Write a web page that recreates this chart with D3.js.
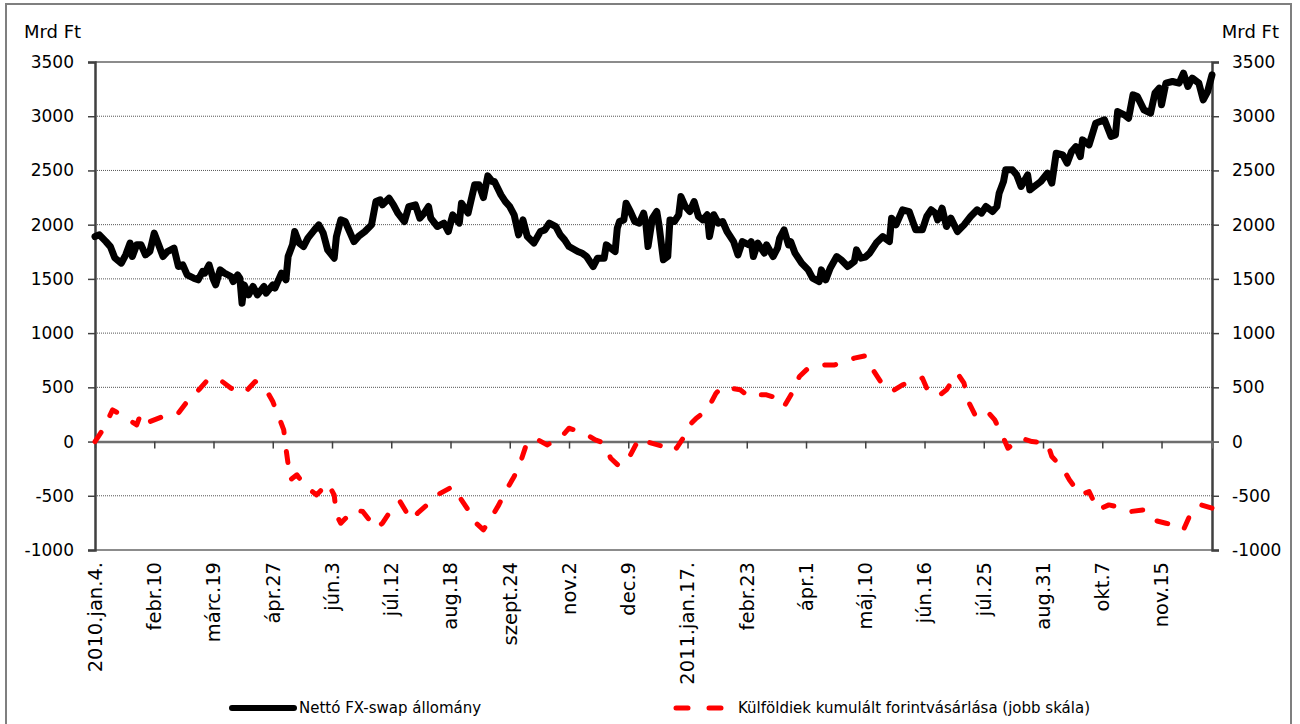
<!DOCTYPE html>
<html lang="hu">
<head>
<meta charset="utf-8">
<title>Nettó FX-swap állomány és külföldiek forintvásárlása</title>
<style>
  body { margin: 0; background: #fff; }
  svg text { font-family: "DejaVu Sans", Verdana, sans-serif; fill: #000; }
  .grid line { stroke: #555; stroke-width: 1; stroke-dasharray: 1,1; }
</style>
</head>
<body>
<svg width="1300" height="724"></svg>
<script src="https://d3js.org/d3.v7.min.js"></script>
<script>

// munkanap-index (0 = 2010.jan.4.), minden 27. naphoz tartozik egy felirat
var tickLabels = ["2010.jan.4.", "febr.10", "márc.19", "ápr.27", "jún.3", "júl.12", "aug.18",
  "szept.24", "nov.2", "dec.9", "2011.jan.17.", "febr.23", "ápr.1", "máj.10", "jún.16",
  "júl.25", "aug.31", "okt.7", "nov.15"];
var tickStep = 27;
var lastDay = 509;

var yTicks = [3500, 3000, 2500, 2000, 1500, 1000, 500, 0, -500, -1000];

// Nettó FX-swap állomány (Mrd Ft, bal skála)
var swapDay = [0, 2, 5, 7, 9, 12, 14, 16, 17, 19, 21, 23, 25, 27, 29, 31, 33, 36, 38, 40,
  42, 45, 47, 49, 50, 52, 54, 55, 57, 59, 62, 63, 65, 66, 67, 68, 70, 72, 74, 77,
  78, 81, 82, 84, 85, 87, 88, 90, 91, 93, 95, 97, 100, 102, 104, 106, 109, 110, 112, 114,
  116, 118, 120, 123, 126, 128, 130, 131, 134, 136, 138, 141, 143, 146, 148, 150, 152, 153, 156, 159,
  161, 163, 166, 167, 170, 173, 175, 177, 179, 181, 182, 185, 187, 189, 191, 193, 195, 197, 200, 203,
  205, 207, 210, 212, 214, 216, 220, 222, 224, 227, 229, 232, 233, 235, 237, 238, 239, 241, 242, 244,
  246, 248, 250, 251, 252, 254, 256, 257, 259, 261, 262, 264, 266, 267, 269, 271, 273, 275, 277, 279,
  280, 282, 284, 286, 288, 291, 293, 295, 298, 299, 300, 302, 305, 306, 309, 311, 312, 314, 316, 317,
  319, 322, 325, 327, 330, 331, 333, 335, 338, 340, 343, 344, 346, 347, 349, 351, 353, 356, 359, 362,
  363, 365, 368, 371, 374, 377, 379, 381, 383, 384, 386, 388, 390, 393, 396, 399, 402, 404, 406, 409,
  411, 412, 414, 415, 418, 420, 422, 425, 426, 428, 431, 434, 436, 438, 441, 443, 445, 447, 449, 450,
  453, 456, 458, 460, 463, 465, 466, 469, 471, 473, 475, 478, 481, 483, 485, 486, 488, 491, 494, 496,
  498, 500, 503, 505, 507, 509];
var swapVal = [1890, 1906, 1844, 1798, 1694, 1645, 1722, 1830, 1706, 1814, 1814, 1722, 1752, 1922, 1814, 1706, 1752, 1783, 1614, 1629,
  1537, 1507, 1491, 1568, 1553, 1629, 1491, 1445, 1583, 1553, 1522, 1475, 1537, 1507, 1276, 1445, 1353, 1430, 1353, 1430,
  1368, 1445, 1415, 1507, 1553, 1491, 1706, 1814, 1937, 1830, 1798, 1876, 1952, 1998, 1922, 1768, 1691, 1890, 2044, 2029,
  1937, 1844, 1890, 1937, 1998, 2213, 2229, 2183, 2244, 2183, 2106, 2029, 2167, 2183, 2060, 2106, 2167, 2060, 1983, 2014,
  1937, 2091, 2014, 2198, 2106, 2367, 2367, 2250, 2450, 2398, 2398, 2275, 2213, 2167, 2091, 1906, 2044, 1890, 1830, 1937,
  1952, 2014, 1983, 1906, 1860, 1798, 1752, 1737, 1706, 1614, 1691, 1691, 1814, 1783, 1752, 1968, 2029, 2044, 2198, 2121,
  2029, 2014, 2106, 2014, 1798, 2060, 2121, 1998, 1676, 1706, 2044, 2029, 2091, 2259, 2167, 2121, 2213, 2075, 2044, 2091,
  1890, 2091, 2014, 2029, 1937, 1844, 1722, 1844, 1814, 1844, 1706, 1830, 1737, 1814, 1706, 1783, 1876, 1952, 1814, 1844,
  1737, 1645, 1583, 1507, 1475, 1583, 1491, 1599, 1706, 1676, 1614, 1629, 1660, 1768, 1691, 1700, 1737, 1830, 1890, 1844,
  2060, 1998, 2137, 2121, 1952, 1952, 2075, 2137, 2106, 2044, 2152, 1983, 2060, 1937, 1998, 2075, 2137, 2106, 2167, 2121,
  2167, 2290, 2398, 2506, 2506, 2459, 2352, 2459, 2321, 2352, 2398, 2475, 2383, 2659, 2644, 2567, 2674, 2720, 2628, 2782,
  2736, 2936, 2951, 2967, 2813, 2828, 3043, 3013, 2982, 3197, 3181, 3059, 3028, 3213, 3259, 3105, 3305, 3320, 3305, 3397,
  3274, 3351, 3305, 3151, 3228, 3382];

// Külföldiek kumulált forintvásárlása (Mrd Ft, jobb skála)
var forintDay = [0, 4, 8, 12, 19, 21, 25, 31, 38, 42, 48, 52, 58, 62, 68, 73, 78, 81, 84, 86,
  87, 89, 92, 96, 101, 106, 109, 110, 112, 118, 122, 128, 131, 136, 139, 144, 147, 153, 156, 163,
  166, 170, 172, 177, 180, 184, 187, 191, 194, 197, 199, 202, 206, 212, 216, 223, 228, 232, 235, 239,
  244, 248, 251, 259, 263, 265, 268, 271, 274, 279, 283, 286, 294, 298, 300, 306, 311, 314, 318, 321,
  325, 333, 337, 346, 351, 355, 358, 363, 368, 377, 379, 384, 388, 393, 396, 398, 401, 406, 410, 414,
  416, 422, 427, 434, 436, 441, 444, 449, 453, 457, 462, 469, 472, 478, 482, 488, 491, 496, 499, 504,
  509];
var forintVal = [0, 123, 292, 246, 154, 262, 184, 231, 262, 369, 492, 585, 553, 492, 446, 553, 477, 369, 216, 108,
  -61, -353, -307, -415, -492, -384, -492, -676, -753, -630, -645, -799, -753, -599, -553, -722, -660, -553, -492, -415,
  -507, -630, -722, -814, -722, -584, -461, -323, -184, 0, 15, 15, -31, 31, 123, 77, 15, -15, -154, -230,
  -123, 31, 0, -46, -15, -61, 31, 154, 216, 292, 446, 507, 477, 415, 431, 431, 400, 323, 461, 600,
  677, 707, 707, 769, 790, 646, 553, 461, 523, 585, 492, 415, 477, 631, 538, 369, 246, 292, 200, 31,
  -61, 31, 0, -15, -138, -245, -353, -492, -461, -630, -584, -614, -645, -630, -722, -753, -768, -814, -676, -584,
  -614];

var svg = d3.select("svg"),
    margin = {top: 62, right: 88, bottom: 174, left: 95},
    width = 1300 - margin.left - margin.right,
    height = 724 - margin.top - margin.bottom;

// külső keret
svg.append("rect")
    .attr("x", 6).attr("y", 4)
    .attr("width", 1285).attr("height", 740)
    .attr("fill", "none")
    .attr("stroke", "#7f7f7f")
    .attr("stroke-width", 2);

var g = svg.append("g").attr("transform", "translate(" + margin.left + "," + margin.top + ")");

var x = d3.scaleLinear().domain([0, lastDay]).range([0, width]);
var y = d3.scaleLinear().domain([-1000, 3500]).range([height, 0]);

// rácsvonalak
g.append("g").attr("class", "grid")
  .selectAll("line")
  .data(yTicks.filter(function(d) { return d != 0 && d != 3500 && d != -1000; }))
  .enter().append("line")
    .attr("x1", 0).attr("x2", width)
    .attr("y1", function(d) { return y(d); })
    .attr("y2", function(d) { return y(d); });

// felső és alsó keretvonal
g.append("line").attr("x1", 0).attr("x2", width).attr("y1", 0).attr("y2", 0)
    .attr("stroke", "#8c8c8c").attr("stroke-width", 2);
g.append("line").attr("x1", 0).attr("x2", width).attr("y1", height).attr("y2", height)
    .attr("stroke", "#8c8c8c").attr("stroke-width", 2);

// bal és jobb tengely
var plain = function(d) { return String(d); };
var yLeft = d3.axisLeft(y).tickValues(yTicks).tickSize(7).tickPadding(14).tickFormat(plain);
var yRight = d3.axisRight(y).tickValues(yTicks).tickSize(7).tickPadding(13).tickFormat(plain);

g.append("g").call(yLeft)
    .call(function(a) {
      a.select(".domain").attr("stroke", "#404040").attr("stroke-width", 2.5);
      a.selectAll(".tick line").attr("stroke", "#404040").attr("stroke-width", 1.5);
      a.selectAll("text").style("font-size", "17px");
    });

g.append("g").attr("transform", "translate(" + width + ",0)").call(yRight)
    .call(function(a) {
      a.select(".domain").attr("stroke", "#404040").attr("stroke-width", 2.5);
      a.selectAll(".tick line").attr("stroke", "#404040").attr("stroke-width", 1.5);
      a.selectAll("text").style("font-size", "17px");
    });

// x tengely a nullánál (csak osztásjelek)
var xTickVals = tickLabels.map(function(d, i) { return i * tickStep; });
var xAxis = d3.axisBottom(x).tickValues(xTickVals).tickSize(7).tickFormat("");

g.append("g").attr("transform", "translate(0," + y(0) + ")").call(xAxis)
    .call(function(a) {
      a.select(".domain").attr("stroke", "#6e6e6e").attr("stroke-width", 2.5);
      a.selectAll(".tick line").attr("stroke", "#404040").attr("stroke-width", 1.5);
    });

// dátumfeliratok a rajzterület alatt
g.append("g").selectAll("text")
  .data(tickLabels)
  .enter().append("text")
    .attr("transform", function(d, i) {
      return "translate(" + x(i * tickStep) + "," + (height + 12) + ") rotate(-90)";
    })
    .attr("text-anchor", "end")
    .attr("dy", "0.35em")
    .style("font-size", "19.5px")
    .text(function(d) { return d; });

// vonalak
var swapLine = d3.line()
    .x(function(d, i) { return x(swapDay[i]); })
    .y(function(d) { return y(d); });
var forintLine = d3.line()
    .x(function(d, i) { return x(forintDay[i]); })
    .y(function(d) { return y(d); });

g.append("path")
    .attr("d", forintLine(forintVal))
    .attr("fill", "none")
    .attr("stroke", "#ff0000")
    .attr("stroke-width", 5)
    .attr("stroke-linecap", "round")
    .attr("stroke-linejoin", "round")
    .attr("stroke-dasharray", "11,19");

g.append("path")
    .attr("d", swapLine(swapVal))
    .attr("fill", "none")
    .attr("stroke", "#000")
    .attr("stroke-width", 7)
    .attr("stroke-linejoin", "round")
    .attr("stroke-linecap", "round");

// tengelycímek
svg.append("text").attr("x", 24).attr("y", 38).style("font-size", "18px").text("Mrd Ft");
svg.append("text").attr("x", 1279).attr("y", 38).attr("text-anchor", "end").style("font-size", "18px").text("Mrd Ft");

// jelmagyarázat
var legend = svg.append("g").attr("transform", "translate(0,708)");
legend.append("line").attr("x1", 232).attr("x2", 294).attr("y1", 0).attr("y2", 0)
    .attr("stroke", "#000").attr("stroke-width", 6).attr("stroke-linecap", "round");
legend.append("text").attr("x", 299).attr("dy", "0.35em").style("font-size", "15px")
    .text("Nettó FX-swap állomány");
legend.append("line").attr("x1", 676).attr("x2", 730).attr("y1", 0).attr("y2", 0)
    .attr("stroke", "#ff0000").attr("stroke-width", 5).attr("stroke-linecap", "round")
    .attr("stroke-dasharray", "12,21");
legend.append("text").attr("x", 738).attr("dy", "0.35em").style("font-size", "15px")
    .text("Külföldiek kumulált forintvásárlása (jobb skála)");

</script>
</body>
</html>
